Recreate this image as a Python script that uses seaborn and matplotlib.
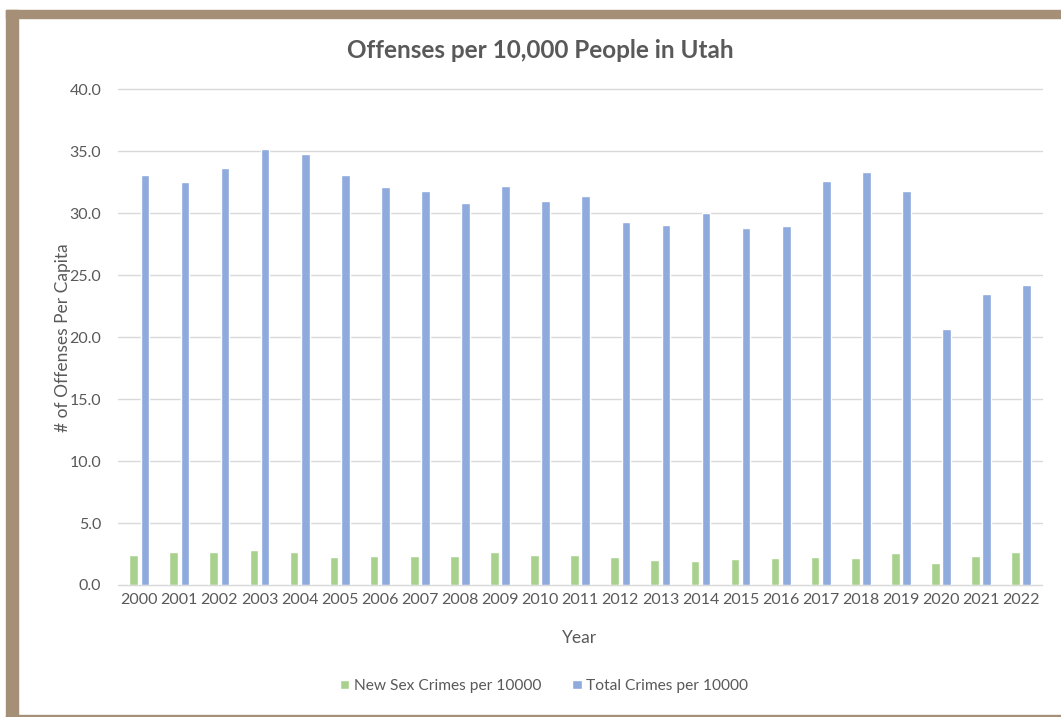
import numpy as np
import pandas as pd
import matplotlib.pyplot as plt
import seaborn as sns
from matplotlib.patches import Rectangle

YEARS = [str(y) for y in range(2000, 2023)]
SEX_CRIMES = [2.4, 2.7, 2.7, 2.85, 2.7, 2.3, 2.35, 2.35, 2.35, 2.7, 2.45,
              2.4, 2.25, 2.05, 1.95, 2.1, 2.15, 2.25, 2.15, 2.55, 1.8, 2.35, 2.7]
TOTAL_CRIMES = [33.1, 32.5, 33.7, 35.2, 34.8, 33.1, 32.1, 31.8, 30.8, 32.2, 31.0,
                31.4, 29.3, 29.1, 30.0, 28.8, 29.0, 32.6, 33.3, 31.8, 20.7, 23.5, 24.2]
SERIES = ["New Sex Crimes per 10000", "Total Crimes per 10000"]
COLORS = ["#A9D18E", "#8FAADC"]

df = pd.DataFrame({
    "Year": YEARS * 2,
    "value": SEX_CRIMES + TOTAL_CRIMES,
    "series": [SERIES[0]] * len(YEARS) + [SERIES[1]] * len(YEARS),
})

sns.set_style("white")
plt.rcParams["font.family"] = ["Lato", "DejaVu Sans"]
TXT = "#595959"

W, H = 1061, 717
fig = plt.figure(figsize=(W / 100, H / 100), dpi=100)
ax = fig.add_axes([118 / W, 1 - 585 / H, (1042 - 118) / W, (585 - 89.5) / H])

sns.barplot(data=df, x="Year", y="value", hue="series", palette=COLORS,
            width=0.56, gap=0.23, ax=ax, legend=True, saturation=1)

ax.set_ylim(0, 40)
ax.set_xlim(-0.53, 22.52)
ax.set_yticks(np.arange(0, 40.1, 5))
ax.set_yticklabels([f"{v:.1f}" for v in np.arange(0, 40.1, 5)])
ax.yaxis.grid(True, color="#D9D9D9", lw=1)
for line in ax.get_ygridlines():
    line.set_clip_on(False)
ax.set_axisbelow(True)
for s in ["top", "right", "left"]:
    ax.spines[s].set_visible(False)
ax.spines["bottom"].set_color("#D9D9D9")
ax.tick_params(axis="both", length=0, labelsize=11.5, colors=TXT, pad=6)
ax.tick_params(axis="y", pad=12)
ax.set_xlabel("Year", fontsize=12.5, color=TXT, labelpad=16)
ax.set_ylabel("# of Offenses Per Capita", fontsize=12.5, color=TXT, labelpad=-1)

handles, labels = ax.get_legend_handles_labels()
ax.get_legend().remove()
fig.legend(handles, labels, loc="center", bbox_to_anchor=(544 / W, 1 - 686 / H),
           ncol=2, frameon=False, fontsize=11.2, handlelength=0.6, handleheight=0.6,
           handletextpad=0.3, columnspacing=2.0, labelcolor=TXT)

fig.text(540 / W, 1 - 50 / H, "Offenses per 10,000 People in Utah", ha="center",
         va="center", fontsize=17.5, fontweight="bold", color=TXT)

# brown frame around the chart image
brown = "#A68F77"
fig.patches.append(Rectangle((6 / W, 0), 12 / W, 1 - 10 / H, transform=fig.transFigure,
                             color=brown, zorder=0))
fig.patches.append(Rectangle((6 / W, 1 - 18 / H), 1, 8 / H, transform=fig.transFigure,
                             color=brown, zorder=0))
fig.patches.append(Rectangle((6 / W, 0), 1, 2 / H, transform=fig.transFigure,
                             color=brown, zorder=0))

plt.savefig("out.png", dpi=100)
plt.close()
